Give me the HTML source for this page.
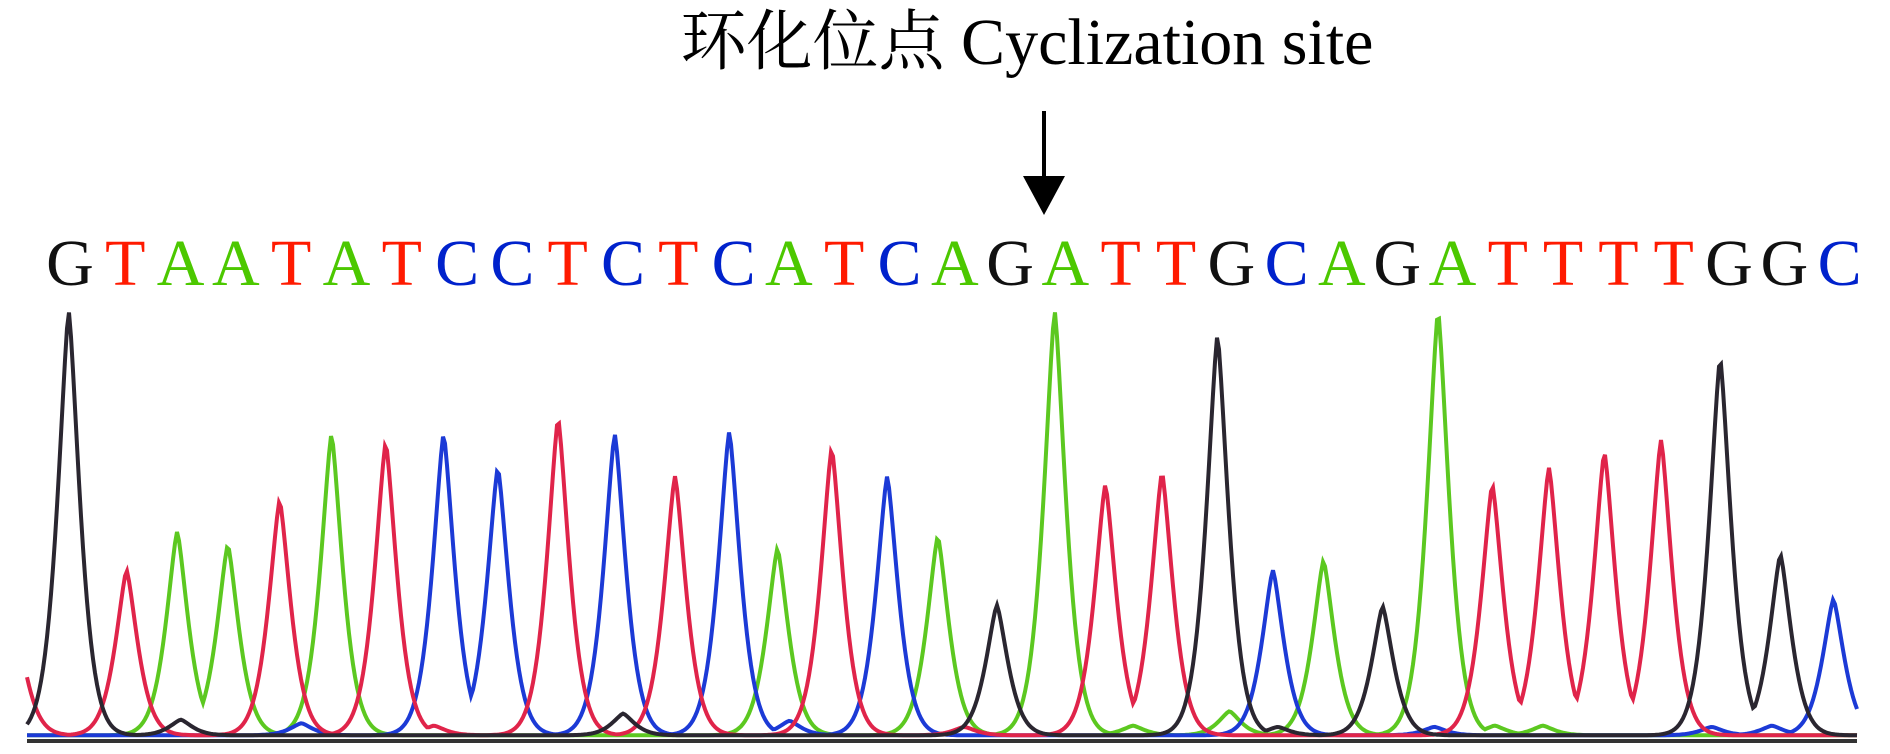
<!DOCTYPE html>
<html><head><meta charset="utf-8"><style>
html,body{margin:0;padding:0;background:#fff;}
#c{position:relative;width:1890px;height:754px;overflow:hidden;background:#fff;}
.t{position:absolute;left:0;width:1890px;text-align:center;top:5px;font-family:"Liberation Serif","Noto Serif CJK SC",serif;font-size:66px;line-height:76px;color:#000;}
.b{position:absolute;top:229px;font-family:"Liberation Serif",serif;font-size:66px;line-height:70px;width:60px;margin-left:-30px;text-align:center;}
</style></head><body><div id="c">
<div class="t" style="left:82px">环化位点 Cyclization site</div>
<svg width="1890" height="754" style="position:absolute;left:0;top:0" id="s">
<line x1="1044" y1="111" x2="1044" y2="180" stroke="#000" stroke-width="4"/>
<polygon points="1023,176 1065,176 1044,215" fill="#000"/>
<g id="tr" fill="none" stroke-width="4" stroke-linejoin="miter"></g>
<line x1="27" y1="741" x2="1857" y2="741" stroke="#333" stroke-width="4"/>
</svg>
<div id="L"></div>
</div>
<script>
var seq="GTAATATCCTCTCATCAGATTGCAGATTTTGGC";
var col={G:"#111",T:"#ff1a00",A:"#4cc800",C:"#0022cc"};
var tc={G:"#2a2630",T:"#e0244a",A:"#5cc820",C:"#1c3ad6"};
var L=document.getElementById("L"),h="";
for(var i=0;i<seq.length;i++){h+='<div class="b" style="left:'+(70+i*55.3)+'px;color:'+col[seq[i]]+'">'+seq[i]+'</div>';}
L.innerHTML=h;
var px=[57,105,147,189,232,275,320,368,413,463,510,560,605,645,690,736,778,827,875,917,964,1010,1056,1098,1147,1193,1238,1285,1331,1378,1427,1477,1521];
var py=[258,473,441,452,415,360,367,360,388,347,360,395,358,455,372,395,445,502,258,402,392,278,473,465,503,258,402,388,375,365,297,460,497];
var S=1.2054,base=610*S;
var peaks={G:[],T:[],A:[],C:[]};
for(var i=0;i<seq.length;i++)peaks[seq[i]].push([px[i]*S,py[i]*S]);
peaks.T.push([12*S,515*S]);
var nz=[["G",150,597],["G",517,592],["C",250,600],["C",655,598],["T",360,602],["A",1020,590],["A",940,602],["C",1470,602],["A",1240,602],["A",1280,602],["C",1190,603],["C",1420,603],["T",800,603],["G",1060,603]];
nz.forEach(function(n){peaks[n[0]].push([n[1]*S,n[2]*S]);});
var g=document.getElementById("tr"),out="";
["A","C","T","G"].forEach(function(k){
 var d="";
 for(var x=27;x<=1857;x+=2){
  var m=0;
  peaks[k].forEach(function(p){var sg=13;var hgt=base-p[1];var dx=Math.abs(x-p[0]);var v=hgt*Math.exp(-Math.pow(dx/sg,1.4)/1.4);if(v>m)m=v;});
  d+=(x==27?"M":"L")+x+","+(base-m).toFixed(1);
 }
 out+='<path d="'+d+'" stroke="'+tc[k]+'"/>';
});
g.innerHTML=out;
</script>
</body></html>
